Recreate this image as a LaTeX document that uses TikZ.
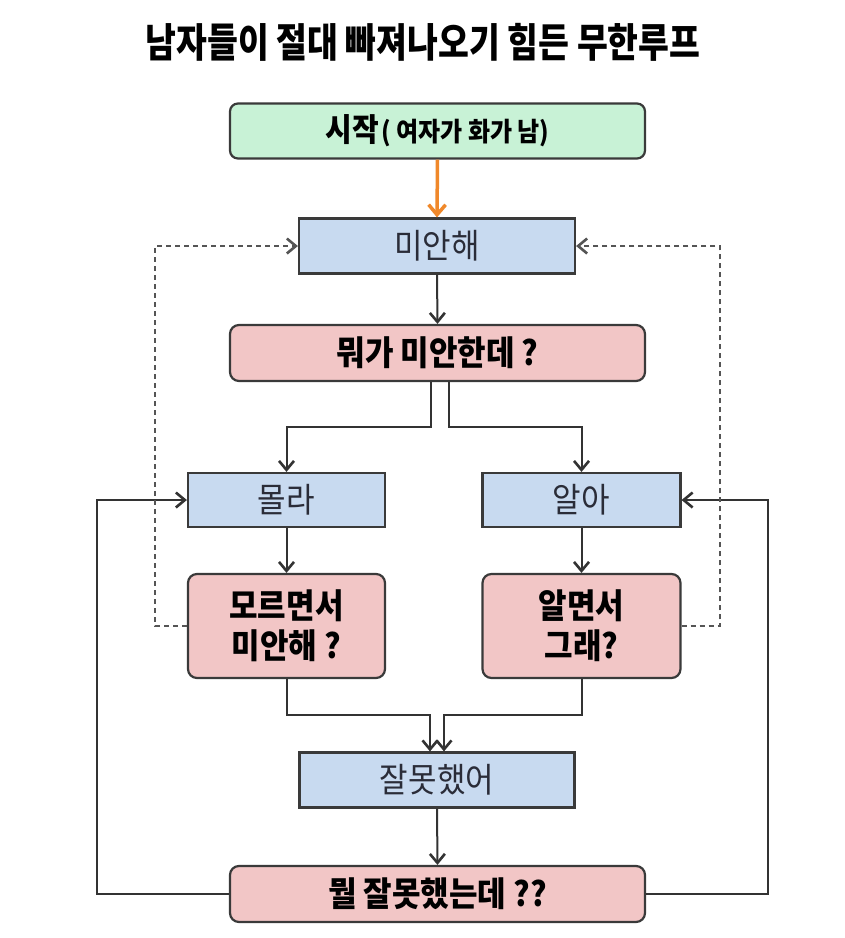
\documentclass[tikz,border=0pt]{standalone}
\usepackage{fontspec}
\setmainfont{Noto Sans CJK KR}
\usetikzlibrary{arrows.meta}
\definecolor{boxline}{HTML}{3A3A3A}
\definecolor{greenfill}{HTML}{C8F2D6}
\definecolor{bluefill}{HTML}{C8DAF0}
\definecolor{pinkfill}{HTML}{F2C6C6}
\definecolor{orangearr}{HTML}{F0882A}
\definecolor{linegray}{HTML}{333333}
\definecolor{dashgray}{HTML}{555555}
\definecolor{bluetext}{HTML}{2A2C38}
\newcommand{\tall}[1]{\scalebox{1}[1.1]{#1}}
\tikzset{
  box/.style={draw=boxline, line width=2.2pt, inner sep=0pt, align=center},
  greenbox/.style={box, fill=greenfill, rounded corners=8pt},
  bluebox/.style={box, fill=bluefill, text=bluetext, font=\fontsize{31}{36}\selectfont},
  pinkbox/.style={box, fill=pinkfill, rounded corners=9pt, font=\bfseries\fontsize{31}{40}\selectfont},
  arr/.style={draw=linegray, line width=2pt, -{Straight Barb[length=9pt,width=15pt,line width=2.6pt]}},
  dasharr/.style={arr, draw=dashgray, line width=2.2pt, dash pattern=on 5pt off 4pt},
  orangearrow/.style={draw=orangearr, line width=3.5pt, -{Straight Barb[length=10pt,width=17pt,line width=3.5pt]}},
  titletext/.style={inner sep=0pt, font=\bfseries\fontsize{33.5}{40}\selectfont}
}
\begin{document}
\begin{tikzpicture}[x=1pt, y=-1pt]
\useasboundingbox[fill=white] (0,0) rectangle (845,938);

\node[titletext] (title) at (423,42) {\scalebox{1}[1.2]{남자들이 절대 빠져나오기 힘든 무한루프}};

\node[greenbox, minimum width=415pt, minimum height=55pt] (start) at (437.5,131)
  {\bfseries\tall{{\fontsize{29}{32}\selectfont 시작} {\fontsize{24}{28}\selectfont( 여자가 화가 남)}}};
\node[bluebox, minimum width=276pt, minimum height=55pt] (sorry) at (437,246) {\tall{미안해}};
\node[pinkbox, minimum width=415pt, minimum height=56pt] (what) at (437.5,353) {\tall{뭐가 미안한데 ?}};
\node[bluebox, minimum width=197pt, minimum height=54pt] (dunno) at (286.5,500) {\tall{몰라}};
\node[bluebox, minimum width=198pt, minimum height=54pt] (know) at (581.5,500) {\tall{알아}};
\node[pinkbox, minimum width=197pt, minimum height=104pt] (dunnoq) at (286.5,626) {\tall{모르면서}\\\tall{미안해 ?}};
\node[pinkbox, minimum width=198pt, minimum height=104pt] (knowq) at (581.5,626) {\tall{알면서}\\\tall{그래?}};
\node[bluebox, minimum width=275pt, minimum height=55pt] (wrong) at (437,780) {\tall{잘못했어}};
\node[pinkbox, minimum width=415pt, minimum height=56pt] (whatwrong) at (437.5,894) {\tall{뭘 잘못했는데 ??}};

\coordinate (sl) at (431,427);
\coordinate (sr) at (449,427);
\coordinate (ml) at (430,715);
\coordinate (mr) at (444,715);
\coordinate (loopL) at (97,500);
\coordinate (loopR) at (768,500);
\coordinate (dashL) at (155,246);
\coordinate (dashR) at (720,246);

\draw[orangearrow] (start.south) -- (sorry.north);
\draw[arr] (sorry.south) -- (what.north);
\draw[arr] (what.south -| sl) -- (sl) -| (dunno.north);
\draw[arr] (what.south -| sr) -- (sr) -| (know.north);
\draw[arr] (dunno.south) -- (dunnoq.north);
\draw[arr] (know.south) -- (knowq.north);
\draw[arr] (dunnoq.south) |- (ml) -- (wrong.north -| ml);
\draw[arr] (knowq.south) |- (mr) -- (wrong.north -| mr);
\draw[arr] (wrong.south) -- (whatwrong.north);
\draw[arr] (whatwrong.west) -| (loopL) -- (dunno.west);
\draw[arr] (whatwrong.east) -| (loopR) -- (know.east);
\draw[dasharr] (dunnoq.west) -| (dashL) -- (sorry.west);
\draw[dasharr] (knowq.east) -| (dashR) -- (sorry.east);
\end{tikzpicture}
\end{document}
